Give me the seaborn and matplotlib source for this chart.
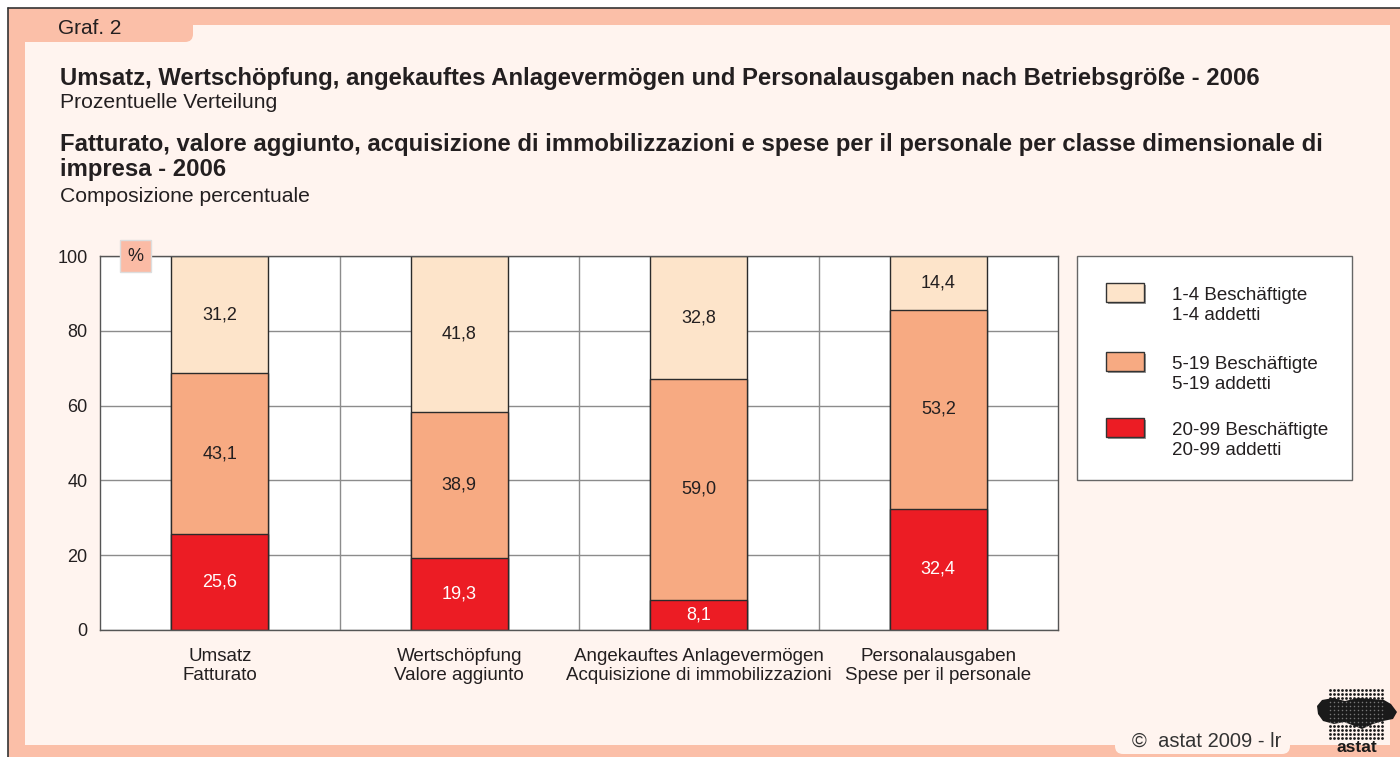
import numpy as np
import pandas as pd
import matplotlib
matplotlib.use("Agg")
import matplotlib.pyplot as plt
from matplotlib.patches import Rectangle, FancyBboxPatch, Polygon
from matplotlib.path import Path
import seaborn as sns

# ---------------- data ----------------
categories = [
    "Umsatz\nFatturato",
    "Wertschöpfung\nValore aggiunto",
    "Angekauftes Anlagevermögen\nAcquisizione di immobilizzazioni",
    "Personalausgaben\nSpese per il personale",
]
series_names = [
    "1-4 Beschäftigte\n1-4 addetti",
    "5-19 Beschäftigte\n5-19 addetti",
    "20-99 Beschäftigte\n20-99 addetti",
]
small_1_4 = [31.2, 41.8, 32.8, 14.4]
medium_5_19 = [43.1, 38.9, 59.0, 53.2]
large_20_99 = [25.6, 19.3, 8.1, 32.4]
y_ticks = [0, 20, 40, 60, 80, 100]

series_colors = ["#FDE4CA", "#F7AA82", "#EC1C24"]
label_colors = ["#231F20", "#231F20", "#FFFFFF"]

FRAME = "#FBBFA8"
INNER = "#FFF4EF"
TXT = "#231F20"

sns.set_theme(style="white")
plt.rcParams["font.family"] = ["Liberation Sans", "DejaVu Sans"]

W, H = 1400, 757
fig = plt.figure(figsize=(14, 7.57), dpi=100)
fig.patch.set_facecolor("white")


def fx(x):
    return x / W


def fy(y):
    return 1 - y / H


def frect(x0, y0, x1, y1, **kw):
    r = Rectangle((fx(x0), fy(y1)), (x1 - x0) / W, (y1 - y0) / H,
                  transform=fig.transFigure, **kw)
    fig.add_artist(r)
    return r


def fround(x0, y0, x1, y1, pad=6, **kw):
    r = FancyBboxPatch((fx(x0), fy(y1)), (x1 - x0) / W, (y1 - y0) / H,
                       boxstyle=f"round,pad=0,rounding_size={pad / W}",
                       transform=fig.transFigure, mutation_aspect=W / H, **kw)
    fig.add_artist(r)
    return r


# ---------------- frame ----------------
frect(8, 8, 1400, 757, facecolor=FRAME, edgecolor="none", zorder=-3)
fig.add_artist(plt.Line2D([fx(8), fx(8)], [fy(8), fy(757)], color="#333333", lw=1.2,
                          transform=fig.transFigure, zorder=-2))
fig.add_artist(plt.Line2D([fx(8), fx(1400)], [fy(8), fy(8)], color="#333333", lw=1.2,
                          transform=fig.transFigure, zorder=-2))
frect(25, 25, 1390, 745, facecolor=INNER, edgecolor="none", zorder=-2)
fround(12, 12, 193, 42, pad=8, facecolor=FRAME, edgecolor="none", zorder=-1.5)
fig.text(fx(58), fy(28), "Graf. 2", fontsize=15, color=TXT, ha="left", va="center")

# footer tab
fround(1115, 732, 1290, 754, pad=8, facecolor=INNER, edgecolor="none", zorder=-1.5)
fig.text(fx(1132), fy(741), "©  astat 2009 - lr", fontsize=14.5, color="#333333",
         ha="left", va="center")

# logo (decorative)
logo_ax = fig.add_axes([0, 0, 1, 1], facecolor="none")
logo_ax.set_zorder(1)
logo_ax.set_xlim(0, W)
logo_ax.set_ylim(H, 0)
logo_ax.axis("off")
blob = [(1317, 706), (1322, 700), (1333, 698), (1345, 701), (1358, 698), (1372, 699),
        (1384, 700), (1391, 704), (1397, 712), (1393, 719), (1383, 721), (1373, 724),
        (1362, 729), (1352, 725), (1344, 722), (1334, 724), (1323, 721), (1318, 714)]
logo_ax.add_patch(Polygon(blob, closed=True, facecolor="#1a1a1a", edgecolor="none"))
gx, gy = np.meshgrid(np.arange(1330, 1384, 4.0), np.arange(690, 742, 4.0))
inside = Path(blob).contains_points(np.c_[gx.ravel(), gy.ravel()])
logo_ax.scatter(gx.ravel()[~inside], gy.ravel()[~inside], s=4, color="#1a1a1a", linewidths=0)
logo_ax.scatter(gx.ravel()[inside], gy.ravel()[inside], s=1.2, color="#777777", linewidths=0)
logo_ax.text(1357, 748, "astat", fontsize=12.5, fontweight="bold", color="#1a1a1a",
             ha="center", va="center")

# ---------------- titles ----------------
fig.text(fx(60), fy(78), "Umsatz, Wertschöpfung, angekauftes Anlagevermögen und Personalausgaben nach Betriebsgröße - 2006",
         fontsize=17.2, fontweight="bold", color=TXT, ha="left", va="center")
fig.text(fx(60), fy(102), "Prozentuelle Verteilung", fontsize=15.2, color=TXT, ha="left", va="center")
fig.text(fx(60), fy(157),
         "Fatturato, valore aggiunto, acquisizione di immobilizzazioni e spese per il personale per classe dimensionale di\nimpresa - 2006",
         fontsize=17.2, fontweight="bold", color=TXT, ha="left", va="center", linespacing=1.13)
fig.text(fx(60), fy(196), "Composizione percentuale", fontsize=15.2, color=TXT, ha="left", va="center")

# ---------------- chart ----------------
ax = fig.add_axes([fx(100), fy(630), (1058 - 100) / W, (630 - 256) / H])
ax.set_zorder(2)
ax.set_facecolor("white")

df = pd.DataFrame({"cat": categories, "s": small_1_4, "m": medium_5_19, "l": large_20_99})
df["cum_l"] = df["l"]
df["cum_m"] = df["l"] + df["m"]
df["cum_s"] = df["l"] + df["m"] + df["s"]

for col, color in zip(["cum_s", "cum_m", "cum_l"], series_colors):
    sns.barplot(data=df, x="cat", y=col, color=color, saturation=1, width=0.405,
                edgecolor="#2b2b2b", linewidth=1, ax=ax, zorder=2)

segments = [(df["s"], df["cum_m"]), (df["m"], df["cum_l"]), (df["l"], 0 * df["l"])]
for (vals, bottoms), lc in zip(segments, label_colors):
    for i, (v, b) in enumerate(zip(vals, bottoms)):
        ax.text(i, b + v / 2, f"{v:.1f}".replace(".", ","), ha="center", va="center",
                fontsize=13, color=lc, zorder=3)

ax.set_ylim(0, 100)
ax.set_xlim(-0.5, len(categories) - 0.5)
ax.set_yticks(y_ticks)
ax.set_yticklabels([str(t) for t in y_ticks])
ax.set_xticks(range(len(categories)))
ax.set_xticklabels(categories, linespacing=1.15)
ax.set_xticks([i + 0.5 for i in range(len(categories) - 1)], minor=True)
ax.set_xlabel("")
ax.set_ylabel("")
ax.tick_params(axis="x", which="major", length=0, pad=13, labelsize=13.5, colors=TXT)
ax.tick_params(axis="x", which="minor", length=0)
ax.tick_params(axis="y", length=0, pad=9, labelsize=13, colors=TXT)
ax.set_axisbelow(True)
ax.grid(axis="y", which="major", color="#8c8c8c", lw=1)
ax.grid(axis="x", which="minor", color="#8c8c8c", lw=1)
ax.grid(axis="x", which="major", visible=False)
for sp in ax.spines.values():
    sp.set_visible(True)
    sp.set_color("#555555")
    sp.set_linewidth(1)

# % box
fig.text(fx(135.5), fy(256), "%", fontsize=13, color=TXT, ha="center", va="center",
         bbox=dict(boxstyle="square,pad=0.4", facecolor="#FBBBA5", edgecolor="#dddddd", lw=1),
         zorder=10)

# ---------------- legend (manual box) ----------------
frect(1077, 256, 1352, 480, facecolor="white", edgecolor="#666666", lw=1, zorder=-1)
tops = [283, 352, 418]
for name, color, top in zip(series_names, series_colors, tops):
    frect(1108, top + 2, 1146, top + 21, facecolor="#9a9a9a", edgecolor="none", zorder=-0.9)
    frect(1106, top, 1144, top + 19, facecolor=color, edgecolor="#333333", lw=1, zorder=-0.8)
    fig.text(fx(1172), fy(top + 22.5), name, fontsize=13.5, color=TXT, ha="left",
             va="center", linespacing=1.2)

fig.savefig("out.png", dpi=100, facecolor=fig.get_facecolor())
